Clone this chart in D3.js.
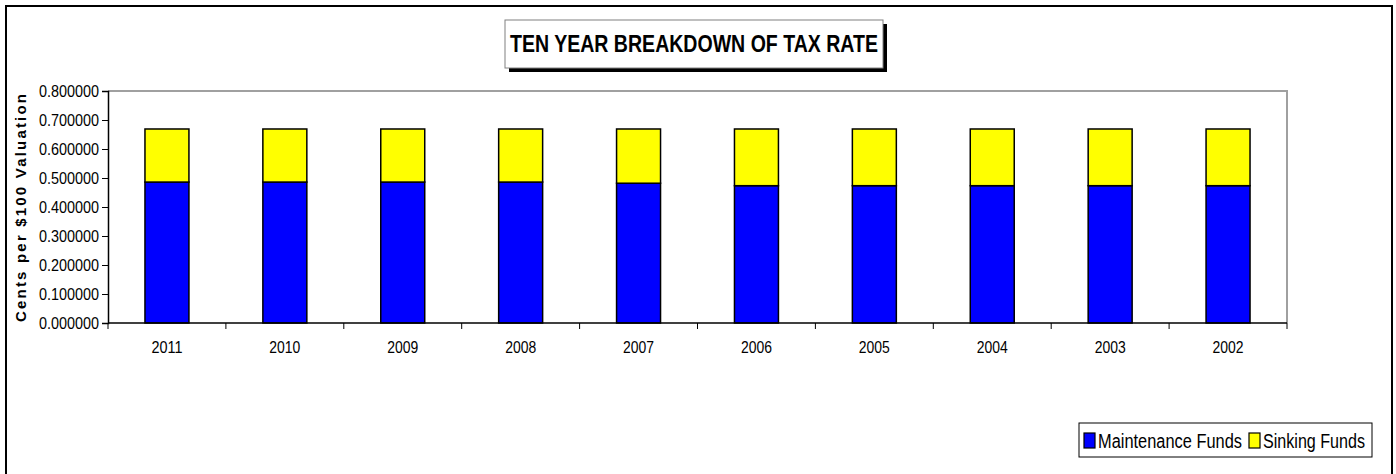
<!DOCTYPE html>
<html>
<head>
<meta charset="utf-8">
<script src="https://cdn.jsdelivr.net/npm/d3@7"></script>
<style>
  body { margin: 0; background: #fff; }
  svg text { font-family: "Liberation Sans", Arial, sans-serif; }
</style>
</head>
<body>
<svg id="chart" width="1396" height="474"></svg>
<script>
  // valores
  var years = ["2011", "2010", "2009", "2008", "2007", "2006", "2005", "2004", "2003", "2002"];
  var maintenance = [0.486, 0.486, 0.486, 0.486, 0.482, 0.4735, 0.4735, 0.4735, 0.4735, 0.4735];
  var sinking = [0.183, 0.183, 0.183, 0.183, 0.187, 0.1955, 0.1955, 0.1955, 0.1955, 0.1955];
  var yTicks = [0, 0.1, 0.2, 0.3, 0.4, 0.5, 0.6, 0.7, 0.8];
  var seriesNames = ["Maintenance Funds", "Sinking Funds"];
  var colors = ["#0000ff", "#ffff00"];

  var svg = d3.select("#chart");
  var plot = { left: 108, right: 1287, top: 91, bottom: 323 };

  // moldura externa (a borda de baixo fica fora da imagem)
  svg.append("rect")
    .attr("x", 6).attr("y", 6)
    .attr("width", 1386).attr("height", 480)
    .attr("fill", "none").attr("stroke", "#000").attr("stroke-width", 2);

  // titulo com sombra
  svg.append("rect").attr("x", 509).attr("y", 24).attr("width", 378).attr("height", 48).attr("fill", "#000");
  svg.append("rect").attr("x", 505).attr("y", 20).attr("width", 378).attr("height", 48)
    .attr("fill", "#fff").attr("stroke", "#808080").attr("stroke-width", 1);
  svg.append("text")
    .attr("x", 510).attr("y", 51.5)
    .attr("font-size", 23).attr("font-weight", "bold")
    .attr("textLength", 368).attr("lengthAdjust", "spacingAndGlyphs")
    .text("TEN YEAR BREAKDOWN OF TAX RATE");

  var x = d3.scaleBand().domain(years).range([plot.left, plot.right]).paddingInner(0.627).paddingOuter(0.3135);
  var xTickScale = d3.scaleBand().domain(years).range([plot.left, plot.right]).padding(0);
  var y = d3.scaleLinear().domain([0, 0.8]).range([plot.bottom, plot.top]);

  // borda cinza da area de plotagem
  svg.append("path")
    .attr("d", "M" + plot.left + "," + plot.top + "H" + plot.right + "V" + plot.bottom)
    .attr("fill", "none").attr("stroke", "#a0a0a0").attr("stroke-width", 2);

  // barras empilhadas
  var data = years.map(function (yr, i) {
    return { year: yr, m: maintenance[i], s: sinking[i] };
  });
  var stacked = d3.stack().keys(["m", "s"])(data);

  svg.append("g").selectAll("g")
    .data(stacked)
    .join("g")
    .attr("fill", function (d, i) { return colors[i]; })
    .selectAll("rect")
    .data(function (d) { return d; })
    .join("rect")
    .attr("x", function (d) { return x(d.data.year); })
    .attr("y", function (d) { return y(d[1]); })
    .attr("width", x.bandwidth())
    .attr("height", function (d) { return y(d[0]) - y(d[1]); })
    .attr("stroke", "#000").attr("stroke-width", 1.5);

  // eixo y
  var yAxis = svg.append("g")
    .attr("transform", "translate(" + plot.left + ",0)")
    .call(d3.axisLeft(y).tickValues(yTicks).tickSize(6).tickPadding(3).tickFormat(d3.format(".6f")));
  yAxis.select(".domain").attr("stroke", "#000").attr("stroke-width", 1.5);
  yAxis.selectAll(".tick line").attr("stroke", "#000");
  yAxis.selectAll(".tick text")
    .attr("font-size", 16).attr("fill", "#000")
    .attr("textLength", 60).attr("lengthAdjust", "spacingAndGlyphs");

  // eixo x: ticks nas divisas das categorias
  var xAxis = svg.append("g").attr("transform", "translate(0," + plot.bottom + ")");
  xAxis.append("line")
    .attr("x1", plot.left).attr("x2", plot.right)
    .attr("stroke", "#000").attr("stroke-width", 1.5);
  var boundaries = years.map(function (yr) { return xTickScale(yr); }).concat([plot.right]);
  xAxis.selectAll(".xtick")
    .data(boundaries)
    .join("line")
    .attr("class", "xtick")
    .attr("x1", function (d) { return d; }).attr("x2", function (d) { return d; })
    .attr("y1", 0).attr("y2", 6)
    .attr("stroke", "#000");
  xAxis.selectAll(".xlabel")
    .data(years)
    .join("text")
    .attr("class", "xlabel")
    .attr("x", function (d) { return xTickScale(d) + xTickScale.bandwidth() / 2; })
    .attr("y", 30)
    .attr("text-anchor", "middle")
    .attr("font-size", 16)
    .attr("textLength", 31).attr("lengthAdjust", "spacingAndGlyphs")
    .text(function (d) { return d; });

  // titulo do eixo y
  svg.append("text")
    .attr("transform", "translate(26,322) rotate(-90)")
    .attr("x", 0).attr("y", 0)
    .attr("font-size", 15).attr("font-weight", "bold")
    .attr("textLength", 228).attr("lengthAdjust", "spacing")
    .text("Cents per $100 Valuation");

  // legenda
  var legend = svg.append("g");
  legend.append("rect")
    .attr("x", 1079).attr("y", 423).attr("width", 293).attr("height", 34)
    .attr("fill", "#fff").attr("stroke", "#000").attr("stroke-width", 1);
  var legendItems = [
    { sx: 1084, tx: 1098, tw: 144 },
    { sx: 1249, tx: 1263, tw: 102 }
  ];
  legendItems.forEach(function (it, i) {
    legend.append("rect")
      .attr("x", it.sx).attr("y", 433).attr("width", 11).attr("height", 15)
      .attr("fill", colors[i]).attr("stroke", "#000").attr("stroke-width", 1.2);
    legend.append("text")
      .attr("x", it.tx).attr("y", 448)
      .attr("font-size", 20)
      .attr("textLength", it.tw).attr("lengthAdjust", "spacingAndGlyphs")
      .text(seriesNames[i]);
  });
</script>
</body>
</html>
